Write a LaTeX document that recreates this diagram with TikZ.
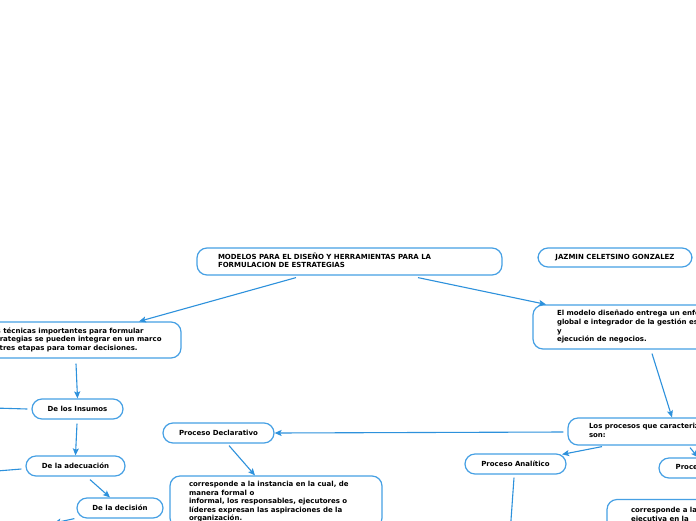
\documentclass[tikz,border=0pt]{standalone}
\usepackage{fontspec}
\setmainfont{DejaVu Sans}
\usetikzlibrary{arrows.meta,calc}
\definecolor{boxc}{RGB}{70,160,228}
\definecolor{linec}{RGB}{45,145,220}
\newcommand\txtblk[2]{\makebox[#1][l]{\begin{tabular}{@{}l@{}}#2\end{tabular}}}
\begin{document}
\begin{tikzpicture}[x=1pt,y=-1pt,
  box/.style={draw=boxc, fill=white, line width=1.2pt, rounded corners=10pt,
    font=\fontsize{7}{8.6}\selectfont\bfseries, inner xsep=0pt, inner ysep=1pt, align=center},
  conn/.style={draw=linec, line width=1.1pt, -{Stealth[length=7pt,width=6pt,inset=1.5pt]}},
  plain/.style={draw=linec, line width=1.1pt}]
\useasboundingbox (0,0) rectangle (696,520);
\fill[white] (0,0) rectangle (696,520);
\clip (0,0) rectangle (696,520);

\node[box, minimum width=305pt, minimum height=27pt] (title) at (349.5,261.5)
  {\txtblk{263pt}{MODELOS PARA EL DISEÑO Y HERRAMIENTAS PARA LA\\FORMULACION DE ESTRATEGIAS}};
\node[box, minimum width=154pt, minimum height=19pt] (jazmin) at (615,257.5)
  {JAZMIN CELETSINO GONZALEZ};
\node[box, minimum width=213pt, minimum height=36pt] (left) at (74.5,340)
  {\txtblk{174pt}{Las técnicas importantes para formular\\estrategias se pueden integrar en un marco\\de tres etapas para tomar decisiones.}};
\node[box, minimum width=267pt, minimum height=44pt] (modelo) at (666.5,327)
  {\txtblk{219pt}{El modelo diseñado entrega un enfoque\\global e integrador de la gestión estratégica\\y\\ejecución de negocios.}};
\node[box, minimum width=232pt, minimum height=27pt] (procesos) at (684,431.5)
  {\txtblk{190pt}{Los procesos que caracterizan el modelo\\son:}};
\node[box, minimum width=111pt, minimum height=20pt] (declarativo) at (218.5,433)
  {Proceso Declarativo};
\node[box, minimum width=101pt, minimum height=20pt] (analitico) at (515.5,464)
  {Proceso Analítico};
\node[box, minimum width=106pt, minimum height=20pt] (procright) at (712,468)
  {Proceso Operativo};
\node[box, minimum width=212pt, minimum height=52pt] (desc) at (276,502)
  {\txtblk{174pt}{corresponde a la instancia en la cual, de\\manera formal o\\informal, los responsables, ejecutores o\\líderes expresan las aspiraciones de la\\organización.}};
\node[box, minimum width=193pt, minimum height=31pt] (descright) at (703.5,515)
  {\txtblk{145pt}{corresponde a la\\ejecutiva en la}};
\node[box, minimum width=91pt, minimum height=20pt] (insumos) at (77.5,409)
  {De los Insumos};
\node[box, minimum width=99pt, minimum height=20pt] (adecuacion) at (75.5,466)
  {De la adecuación};
\node[box, minimum width=86pt, minimum height=20pt] (decision) at (120,508)
  {De la decisión};

\coordinate (offA) at (-40,407);
\coordinate (offB) at (-40,474);
\coordinate (offC) at (54,523);
\coordinate (offD) at (509.6,540);

\draw[conn] ($(title.south)+(-53.5,2)$) -- ($(left.north)+(64.5,0)$);
\draw[conn] ($(title.south)+(68.5,2)$) -- ($(modelo.north)+(-120.5,0)$);
\draw[conn] ($(modelo.south)+(-14.5,4)$) -- ($(procesos.north)+(-12,0)$);
\draw[conn] ($(left.south)+(1.5,5)$) -- (insumos.north);
\draw[conn] ($(insumos.south)+(-0.5,4)$) -- (adecuacion.north);
\draw[conn] ($(adecuacion.south)+(14.5,3)$) -- ($(decision.north)+(-10,0)$);
\draw[conn] ($(insumos.west)+(-4,0)$) -- (offA);
\draw[conn] ($(adecuacion.west)+(-4,3)$) -- (offB);
\draw[conn] ($(decision.south west)+(-2,0)$) -- (offC);
\draw[conn] ($(procesos.west)+(-4,0.5)$) -- (declarativo.east);
\draw[conn] ($(procesos.south)+(-82,1)$) -- ($(analitico.north)+(46.5,1)$);
\draw[conn] ($(procesos.south)+(6,2)$) -- ($(procright.north)+(-14,0)$);
\draw[conn] ($(declarativo.south)+(10.5,2)$) -- ($(desc.north)+(-21,0)$);
\draw[conn] ($(analitico.south)+(-1.5,3)$) -- (offD);
\end{tikzpicture}
\end{document}
